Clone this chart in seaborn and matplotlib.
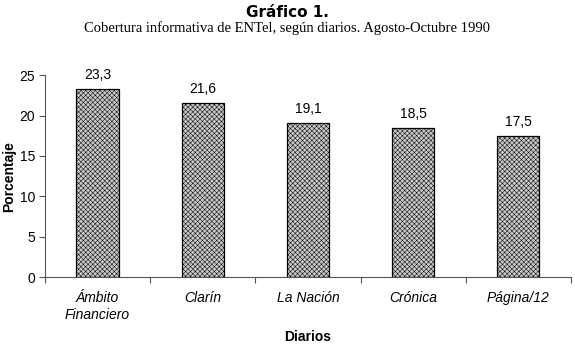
import seaborn as sns
import pandas as pd
import matplotlib.pyplot as plt

# datos del gráfico
diarios = ['Ámbito\nFinanciero', 'Clarín', 'La Nación', 'Crónica', 'Página/12']
porcentaje = [23.3, 21.6, 19.1, 18.5, 17.5]
yticks = [0, 5, 10, 15, 20, 25]

df = pd.DataFrame({'diario': diarios, 'porcentaje': porcentaje})

sns.set_style('white')
plt.rcParams['font.family'] = ['Liberation Sans', 'DejaVu Sans']
plt.rcParams['hatch.linewidth'] = 0.35
plt.rcParams['hatch.color'] = '#8a8a8a'
plt.rcParams['text.color'] = 'black'
plt.rcParams['xtick.color'] = '#555555'
plt.rcParams['ytick.color'] = '#555555'
plt.rcParams['xtick.labelcolor'] = 'black'
plt.rcParams['ytick.labelcolor'] = 'black'
plt.rcParams['axes.labelcolor'] = 'black'

fig = plt.figure(figsize=(5.75, 3.48), dpi=100)
ax = fig.add_axes([0.078, 0.204, 0.915, 0.580])

sns.barplot(data=df, x='diario', y='porcentaje', ax=ax, width=0.4,
            color='#c8c8c8', edgecolor='black', linewidth=0.9)
for bar in ax.patches:
    bar.set_hatch('xxxxxxx')
    bar.set_edgecolor('black')

# etiquetas de valores
for i, v in enumerate(porcentaje):
    ax.annotate(f'{v:.1f}'.replace('.', ','), (i, v), xytext=(0, 5),
                textcoords='offset points', ha='center', va='bottom', fontsize=10)

ax.set_ylim(0, 25)
ax.set_xlim(-0.5, len(diarios) - 0.5)
ax.set_yticks(yticks)
ax.tick_params(axis='y', length=4, width=0.8, labelsize=10, pad=3, left=True)
ax.set_xticks(range(len(diarios)))
ax.set_xticklabels(diarios, fontstyle='italic', fontsize=10, linespacing=1.25)
ax.set_xticks([i - 0.5 for i in range(len(diarios) + 1)], minor=True)
ax.tick_params(axis='x', which='major', length=0, pad=10)
ax.tick_params(axis='x', which='minor', length=4, width=0.8, bottom=True)

for s in ['top', 'right']:
    ax.spines[s].set_visible(False)
for s in ['left', 'bottom']:
    ax.spines[s].set_color('#555555')
    ax.spines[s].set_linewidth(0.8)

ax.set_xlabel('Diarios', fontweight='bold', fontsize=10)
ax.set_ylabel('Porcentaje', fontweight='bold', fontsize=10)
ax.xaxis.set_label_coords(0.5, -0.265)
ax.yaxis.set_label_coords(-0.055, 0.5)

fig.text(0.5, 0.965, 'Gráfico 1.', ha='center', va='center', fontweight='bold',
         fontsize=11, family=['DejaVu Sans'])
fig.text(0.5, 0.918, 'Cobertura informativa de ENTel, según diarios. Agosto-Octubre 1990',
         ha='center', va='center', fontsize=10.5, family=['Liberation Serif', 'DejaVu Serif'])

fig.savefig('out.png', dpi=100)
